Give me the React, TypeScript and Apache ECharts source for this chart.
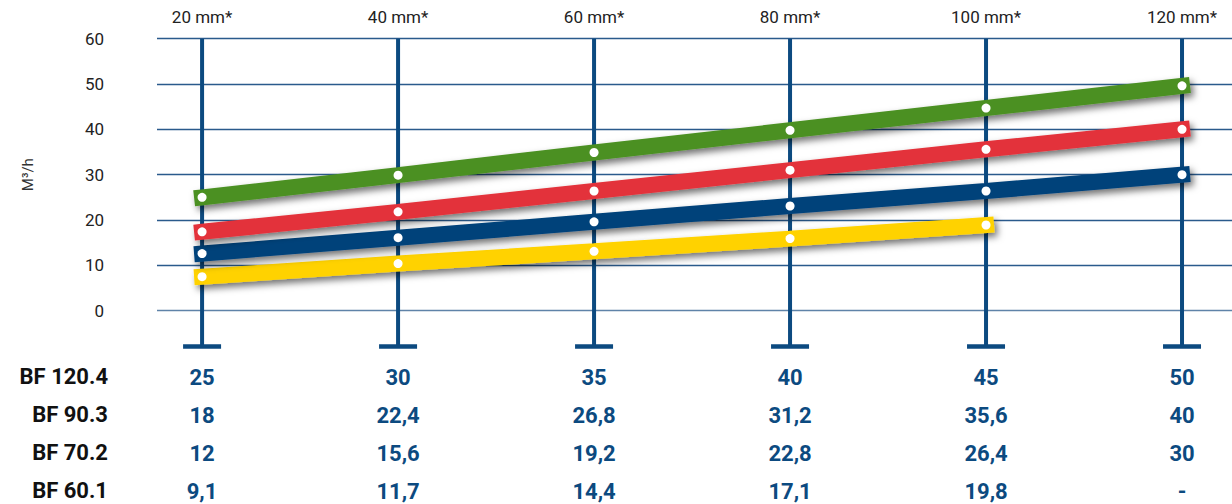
import React, { useEffect, useRef } from "react";
import * as echarts from "echarts";

// Pipe diameters (x positions of the posts)
const xValues = [20, 40, 60, 80, 100, 120];
const xLabelSuffix = " mm*";

// Plotted flow values (M³/h)
const seriesNames = ["BF 120.4", "BF 90.3", "BF 70.2", "BF 60.1"];
const bf1204 = [25, 29.9, 34.9, 39.8, 44.7, 49.6];
const bf903 = [17.4, 21.8, 26.4, 31.0, 35.6, 40.0];
const bf702 = [12.6, 16.1, 19.6, 23.1, 26.4, 30.0];
const bf601 = [7.5, 10.4, 13.1, 15.9, 18.9];

// Table text under the chart
const tableBF1204 = ["25", "30", "35", "40", "45", "50"];
const tableBF903 = ["18", "22,4", "26,8", "31,2", "35,6", "40"];
const tableBF702 = ["12", "15,6", "19,2", "22,8", "26,4", "30"];
const tableBF601 = ["9,1", "11,7", "14,4", "17,1", "19,8", "-"];

const yTicks = [0, 10, 20, 30, 40, 50, 60];

const colors = ["#4b9023", "#e3333b", "#00427a", "#ffd200"];
const postColor = "#0c4a80";
const gridColor = "#2a5a8c";
const zeroColor = "#5f83a8";

export default function App() {
  const ref = useRef<HTMLDivElement>(null);

  useEffect(() => {
    if (!ref.current) return;
    const chart = echarts.init(ref.current, undefined, { renderer: "svg" });

    const tableRows = [tableBF1204, tableBF903, tableBF702, tableBF601];
    const rowOffsets = [66.5, 104.5, 143, 181];
    const valuesList = [bf1204, bf903, bf702, bf601];

    const lineSeries = valuesList.map((vals, si) => ({
      type: "line",
      name: seriesNames[si],
      data: vals.map((v, i) => [xValues[i], v]),
      z: 10 - si,
      symbol: "circle",
      symbolSize: 9,
      showSymbol: true,
      itemStyle: { color: "#ffffff", borderWidth: 0 },
      lineStyle: {
        color: colors[si],
        width: 16,
        cap: "square",
        shadowColor: "rgba(0,0,0,0.55)",
        shadowBlur: 7,
        shadowOffsetX: 3,
        shadowOffsetY: 4,
      },
      emphasis: { disabled: true },
      clip: false,
    }));

    chart.setOption({
      animation: false,
      grid: { left: 157, right: 0, top: 38.7, bottom: 193.3 },
      xAxis: {
        type: "value",
        position: "top",
        min: 15.4,
        max: 125.1,
        axisLine: { show: false },
        axisTick: { show: false },
        splitLine: { show: false },
        axisLabel: {
          customValues: xValues,
          formatter: (v: number) => `${v}${xLabelSuffix}`,
          fontFamily: "Roboto",
          fontSize: 17,
          color: "#222222",
          margin: 13,
        },
      },
      yAxis: {
        type: "value",
        min: 0,
        max: 60,
        interval: 10,
        name: "M³/h",
        nameLocation: "middle",
        nameGap: 122,
        nameRotate: 90,
        nameTextStyle: { fontFamily: "Roboto", fontSize: 15, color: "#333333" },
        axisLine: { show: false },
        axisTick: { show: false },
        axisLabel: {
          customValues: yTicks,
          fontFamily: "Roboto",
          fontSize: 17,
          color: "#222222",
          margin: 53,
        },
        splitLine: {
          show: true,
          lineStyle: {
            color: [zeroColor, gridColor, gridColor, gridColor, gridColor, gridColor, gridColor],
            width: 1.4,
          },
        },
      },
      graphic: seriesNames.map((n, i) => ({
        type: "text",
        right: 1232 - 108,
        top: 365 + i * 38,
        style: {
          text: n,
          fontFamily: "Roboto",
          fontWeight: "bold",
          fontSize: 22,
          fill: "#111111",
          textAlign: "right",
        },
      })),
      series: [
        {
          type: "custom",
          z: 1,
          data: xValues.map((x, i) => [x, i]),
          clip: false,
          silent: true,
          renderItem: (params: any, api: any) => {
            const x = api.value(0);
            const idx = api.value(1);
            const top = api.coord([x, 60]);
            const bot = api.coord([x, 0]);
            const children: any[] = [
              {
                type: "rect",
                shape: { x: top[0] - 2, y: top[1], width: 4, height: bot[1] + 36 - top[1] },
                style: { fill: postColor },
              },
              {
                type: "rect",
                shape: { x: top[0] - 19, y: bot[1] + 33.5, width: 38, height: 4.5 },
                style: { fill: postColor },
              },
            ];
            tableRows.forEach((row, r) => {
              children.push({
                type: "text",
                x: top[0],
                y: bot[1] + rowOffsets[r],
                style: {
                  text: row[idx],
                  fontFamily: "Roboto",
                  fontWeight: "bold",
                  fontSize: 22,
                  fill: postColor,
                  align: "center",
                  verticalAlign: "middle",
                },
              });
            });
            return { type: "group", children };
          },
        },
        ...lineSeries,
      ],
    });

    return () => chart.dispose();
  }, []);

  return (
    <div
      ref={ref}
      style={{ position: "fixed", left: 0, top: 0, width: 1232, height: 504, background: "#ffffff" }}
    />
  );
}
